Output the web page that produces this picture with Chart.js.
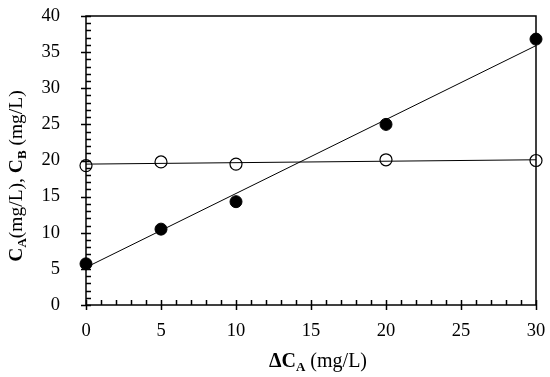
<!DOCTYPE html>
<html>
<head>
<meta charset="utf-8">
<script src="https://cdn.jsdelivr.net/npm/chart.js@4"></script>
<style>
  html, body { margin: 0; padding: 0; background: #fff; }
  #wrap { width: 550px; height: 377px; }
</style>
</head>
<body>
<div id="wrap"><canvas id="chart"></canvas></div>
<script>
// data
const deltaCA = [0, 5, 10, 20, 30];
const cA = [5.7, 10.5, 14.3, 25.0, 36.8];
const cB = [19.3, 19.8, 19.5, 20.1, 20.0];

// fitted lines, endpoints at x = 0 and x = 30
const fitX = [0, 30];
const fitA = [5.2, 35.9];
const fitB = [19.5, 20.1];

const xTicks = [0, 5, 10, 15, 20, 25, 30];
const yTicks = [0, 5, 10, 15, 20, 25, 30, 35, 40];

const FONT = '"Liberation Serif", "Times New Roman", serif';

function pts(xs, ys) {
    return xs.map((x, i) => ({ x: x, y: ys[i] }));
}

// draw minor/major ticks inside the frame, plus the top/right border
const frameTicks = {
    id: 'frameTicks',
    afterDatasetsDraw(chart) {
        const ctx = chart.ctx;
        const xs = chart.scales.x, ys = chart.scales.y;
        const a = chart.chartArea;
        ctx.save();
        ctx.strokeStyle = '#000';
        ctx.lineWidth = 1.5;
        ctx.strokeRect(a.left, a.top, a.right - a.left, a.bottom - a.top);
        ctx.beginPath();
        for (let v = 0; v <= 40; v++) {
            const py = Math.round(ys.getPixelForValue(v)) + 0.5;
            const major = v % 5 === 0;
            ctx.moveTo(a.left - (major ? 5 : 0), py);
            ctx.lineTo(a.left + 5, py);
        }
        for (let v = 0; v <= 30; v++) {
            const px = Math.round(xs.getPixelForValue(v)) + 0.5;
            const major = v % 5 === 0;
            ctx.moveTo(px, a.bottom + (major ? 5 : 0));
            ctx.lineTo(px, a.bottom - 5);
        }
        ctx.stroke();
        ctx.restore();
    }
};

// axis titles with bold subscripts
function drawRuns(ctx, runs, x, y) {
    let cx = x;
    runs.forEach(r => {
        ctx.font = r.font;
        ctx.fillText(r.t, cx, y + (r.dy || 0));
        cx += ctx.measureText(r.t).width;
    });
    return cx - x;
}

function runsWidth(ctx, runs) {
    let w = 0;
    runs.forEach(r => { ctx.font = r.font; w += ctx.measureText(r.t).width; });
    return w;
}

const axisTitles = {
    id: 'axisTitles',
    afterDraw(chart) {
        const ctx = chart.ctx;
        ctx.save();
        ctx.fillStyle = '#000';
        ctx.textBaseline = 'alphabetic';

        const xRuns = [
            { t: '\u0394C', font: 'bold 20px ' + FONT },
            { t: 'A', font: 'bold 13px ' + FONT, dy: 4 },
            { t: ' (mg/L)', font: '20px ' + FONT }
        ];
        const xw = runsWidth(ctx, xRuns);
        drawRuns(ctx, xRuns, 318 - xw / 2, 367);

        const yRuns = [
            { t: 'C', font: 'bold 19.5px ' + FONT },
            { t: 'A', font: 'bold 13px ' + FONT, dy: 4 },
            { t: '(mg/L), ', font: '19.5px ' + FONT },
            { t: 'C', font: 'bold 19.5px ' + FONT },
            { t: 'B', font: 'bold 13px ' + FONT, dy: 4 },
            { t: ' (mg/L)', font: '19.5px ' + FONT }
        ];
        const yw = runsWidth(ctx, yRuns);
        ctx.translate(22, 176);
        ctx.rotate(-Math.PI / 2);
        drawRuns(ctx, yRuns, -yw / 2, 0);
        ctx.restore();
    }
};

new Chart(document.getElementById('chart'), {
    type: 'scatter',
    data: {
        datasets: [
            {
                label: 'fit A',
                type: 'line',
                data: pts(fitX, fitA),
                borderColor: '#000',
                borderWidth: 1,
                pointRadius: 0,
                fill: false
            },
            {
                label: 'fit B',
                type: 'line',
                data: pts(fitX, fitB),
                borderColor: '#000',
                borderWidth: 1,
                pointRadius: 0,
                fill: false
            },
            {
                label: 'CA',
                data: pts(deltaCA, cA),
                pointRadius: 6,
                pointBackgroundColor: '#000',
                pointBorderColor: '#000',
                pointBorderWidth: 1
            },
            {
                label: 'CB',
                data: pts(deltaCA, cB),
                pointRadius: 6,
                pointBackgroundColor: '#fff',
                pointBorderColor: '#000',
                pointBorderWidth: 1.2
            }
        ]
    },
    options: {
        responsive: true,
        maintainAspectRatio: false,
        animation: false,
        clip: false,
        layout: { padding: 0 },
        plugins: {
            legend: { display: false },
            tooltip: { enabled: false }
        },
        scales: {
            x: {
                type: 'linear',
                min: 0,
                max: 30,
                afterBuildTicks: s => { s.ticks = xTicks.map(v => ({ value: v })); },
                afterFit: s => {
                    s.height = 72;
                    s.paddingLeft = 0;
                    s.paddingRight = 14;
                },
                grid: { display: false },
                border: { display: false },
                ticks: {
                    color: '#000',
                    padding: 7,
                    font: { family: FONT, size: 18.5 }
                }
            },
            y: {
                type: 'linear',
                min: 0,
                max: 40,
                afterBuildTicks: s => { s.ticks = yTicks.map(v => ({ value: v })); },
                afterFit: s => {
                    s.width = 86;
                    s.paddingTop = 16;
                    s.paddingBottom = 0;
                },
                grid: { display: false },
                border: { display: false },
                ticks: {
                    color: '#000',
                    padding: 18,
                    font: { family: FONT, size: 18.5 }
                }
            }
        }
    },
    plugins: [frameTicks, axisTitles]
});
</script>
</body>
</html>
